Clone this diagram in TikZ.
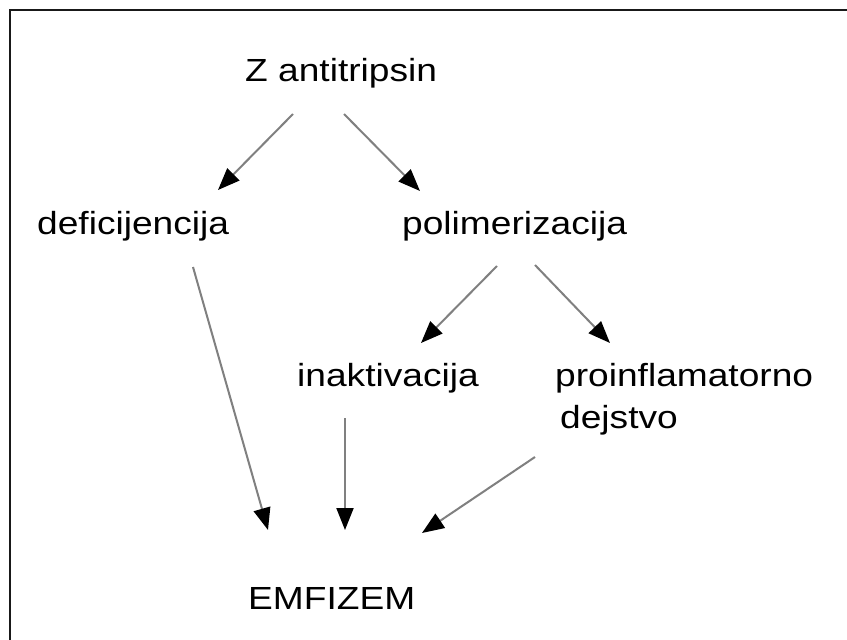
\documentclass[tikz,border=0pt]{standalone}
\usepackage{fontspec}
\setmainfont{Liberation Sans}
\usetikzlibrary{arrows.meta,calc}
\newcommand\sx[1]{\scalebox{1.16}[1]{#1}}
\begin{document}
\begin{tikzpicture}[x=1pt,y=1pt,
  lbl/.style={anchor=base west,inner sep=0pt,font=\fontsize{32}{41}\selectfont},
  arr/.style={draw=black!50,line width=2pt,-{Triangle[length=22pt,width=17pt,color=black]}}]
\useasboundingbox (0,0) rectangle (847,-640);
\fill[white] (0,0) rectangle (847,-640);
\draw[line width=2.5pt,black!90,line join=miter] (847,-10) -- (10,-10) -- (10,-640);
\node[lbl] (z) at (245,-81) {\sx{Z antitripsin}};
\node[lbl] (def) at (37,-234) {\sx{deficijencija}};
\node[lbl] (pol) at (402,-234) {\sx{polimerizacija}};
\node[lbl] (ina) at (297,-386) {\sx{inaktivacija}};
\node[lbl] (pro) at (555,-386) {\sx{proinflamatorno}};
\node[lbl] (dej) at (560,-428) {\sx{dejstvo}};
\node[lbl] (emf) at (248,-609) {\sx{EMFIZEM}};
\draw[arr] ($(z.base west)+(48,-33)$) -- ($(def.base west)+(181,44)$);
\draw[arr] ($(z.base west)+(99,-33)$) -- ($(pol.base west)+(18,43)$);
\draw[arr] ($(def.base west)+(156,-33)$) -- ($(emf.base west)+(20,79)$);
\draw[arr] ($(pol.base west)+(95,-32)$) -- ($(ina.base west)+(124,43)$);
\draw[arr] ($(pol.base west)+(133,-31)$) -- ($(pro.base west)+(55,43)$);
\draw[arr] ($(ina.base west)+(48,-32)$) -- ($(emf.base west)+(97,79)$);
\draw[arr] ($(dej.base west)+(-25,-29)$) -- ($(emf.base west)+(174,76)$);
\end{tikzpicture}
\end{document}
